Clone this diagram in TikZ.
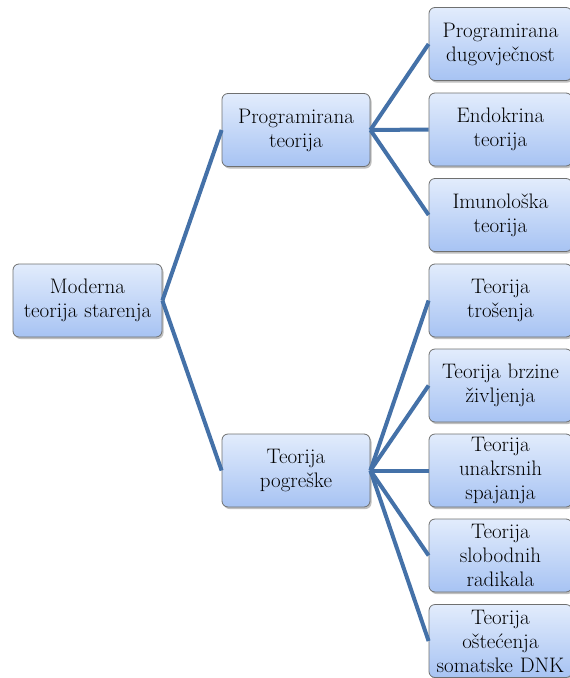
\documentclass[tikz,border=0pt]{standalone}
\usetikzlibrary{shadows}
\definecolor{boxtop}{HTML}{E2ECFC}
\definecolor{boxbottom}{HTML}{A7C3F3}
\definecolor{boxline}{HTML}{6F7070}
\definecolor{branch}{HTML}{4471A8}
\tikzset{
  theory/.style={draw=boxline, line width=0.8pt, rounded corners=6pt,
    top color=boxtop, bottom color=boxbottom, align=center,
    minimum height=73pt, inner sep=1pt,
    font=\fontsize{21}{24}\selectfont,
    drop shadow={shadow xshift=1.5pt, shadow yshift=-2pt, fill=black, opacity=0.25}},
  mid/.style={theory, minimum width=148pt, text width=146pt},
  leaf/.style={theory, minimum width=143pt, text width=141pt},
  branchline/.style={draw=branch, line width=4pt}
}
\begin{document}
\begin{tikzpicture}[x=1pt, y=-1pt]
    \useasboundingbox (0,0) rectangle (570,678);
    \clip (0,0) rectangle (570,678);
    \node[mid, minimum width=149pt] at (87.5,300.5) (root) {Moderna\\teorija starenja};
    \node[mid] at (296,130) (prog) {Programirana\\teorija};
    \node[mid] at (296,470.5) (error) {Teorija\\pogreške};
    \node[leaf] at (500.5,44) (longevity) {Programirana\\dugovječnost};
    \node[leaf] at (500.5,129.5) (endocrine) {Endokrina\\teorija};
    \node[leaf] at (500.5,215) (immune) {Imunološka\\teorija};
    \node[leaf] at (500.5,300.5) (wear) {Teorija\\trošenja};
    \node[leaf] at (500.5,385.5) (rate) {Teorija brzine\\življenja};
    \node[leaf] at (500.5,470.5) (crosslink) {Teorija\\unakrsnih\\spajanja};
    \node[leaf] at (500.5,555.5) (radicals) {Teorija\\slobodnih\\radikala};
    \node[leaf] at (500.5,641) (dna) {Teorija\\oštećenja\\somatske DNK};
    \draw[branchline] (root.east) -- (prog.west);
    \draw[branchline] (root.east) -- (error.west);
    \draw[branchline] (prog.east) -- (longevity.west);
    \draw[branchline] (prog.east) -- (endocrine.west);
    \draw[branchline] (prog.east) -- (immune.west);
    \draw[branchline] (error.east) -- (wear.west);
    \draw[branchline] (error.east) -- (rate.west);
    \draw[branchline] (error.east) -- (crosslink.west);
    \draw[branchline] (error.east) -- (radicals.west);
    \draw[branchline] (error.east) -- (dna.west);
  \end{tikzpicture}
\end{document}
